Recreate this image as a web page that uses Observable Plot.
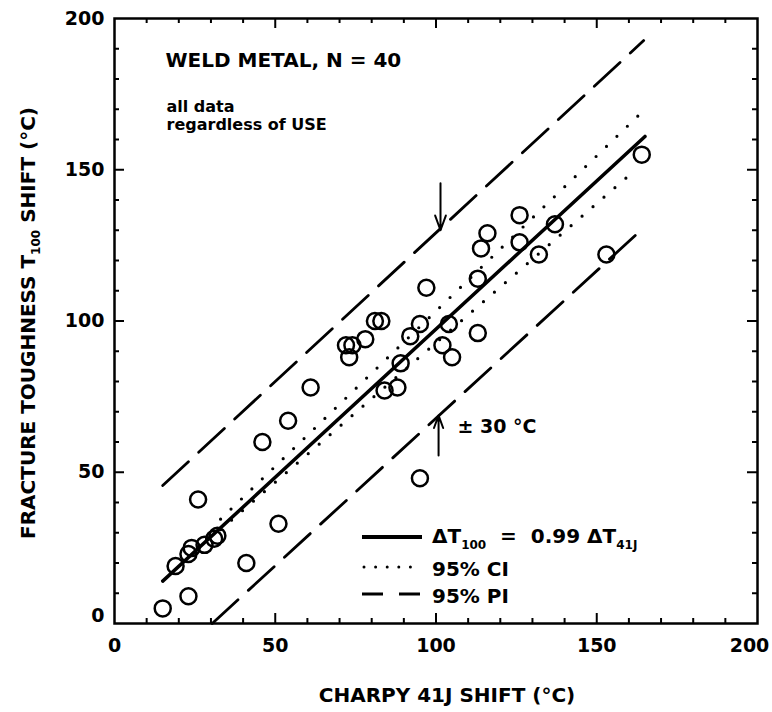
<!DOCTYPE html>
<html><head><meta charset="utf-8">
<script src="https://cdn.jsdelivr.net/npm/d3@7"></script>
<script src="https://cdn.jsdelivr.net/npm/@observablehq/plot@0.6"></script>
<style>
body{margin:0;background:#fff;}
#chart{width:772px;height:712px;}
svg text{font-family:"DejaVu Sans";}
</style></head><body><div id="chart"></div>
<script>
// Data
const charpyShift = [15,23,19,23,24,28,32,31,26,41,51,46,95,54,61,73,72,74,78,81,83,84,88,89,92,95,97,102,105,104,113,113,114,116,126,126,132,137,153,164];
const toughnessShift = [5,9,19,23,25,26,29,28,41,20,33,60,48,67,78,88,92,92,94,100,100,77,78,86,95,99,111,92,88,99,96,114,124,129,126,135,122,132,122,155];
const fitX = [15, 165];       const fitY = [14, 161];
const ciUpperX = [33, 165];   const ciUpperY = [34.5, 170];
const ciLowerX = [33, 161];   const ciLowerY = [31, 149];
const piUpperX = [15, 164.6]; const piUpperY = [45.6, 192.7];
const piLowerX = [30.4, 162]; const piLowerY = [0, 128.3];
const arrowX = [101.4, 100.8]; const arrowFrom = [145.5, 55.5]; const arrowTo = [130, 68.8];
const xTickLabels = [0, 50, 100, 150, 200];
const yTickLabels = [0, 50, 100, 150, 200];
const majorTicks = [50, 100, 150];
const minorTicks = [10,20,30,40,60,70,80,90,110,120,130,140,160,170,180,190];

const points = charpyShift.map((x, i) => ({x, y: toughnessShift[i]}));
const pairs = (X, Y) => X.map((x, i) => ({x, y: Y[i]}));
const arrows = arrowX.map((x, i) => ({x, y1: arrowFrom[i], y2: arrowTo[i]}));

const tickStyle = {stroke: "black", strokeWidth: 2};
const plot = Plot.plot({
  width: 772, height: 712,
  marginLeft: 114, marginRight: 15, marginTop: 18, marginBottom: 89,
  style: {fontFamily: "DejaVu Sans", fontSize: "19px", fontWeight: "bold", background: "white", overflow: "visible"},
  x: {domain: [0, 200], ticks: xTickLabels, tickSize: 0, tickPadding: 15, label: null},
  y: {domain: [0, 200], ticks: yTickLabels, tickSize: 0, tickPadding: 10, label: null},
  marks: [
    // inward ticks on all four sides
    Plot.ruleX(minorTicks, {x: d => d, y1: 0, y2: 0, insetTop: -5, ...tickStyle}),
    Plot.ruleX(majorTicks, {x: d => d, y1: 0, y2: 0, insetTop: -10, ...tickStyle}),
    Plot.ruleX(minorTicks, {x: d => d, y1: 200, y2: 200, insetBottom: -5, ...tickStyle}),
    Plot.ruleX(majorTicks, {x: d => d, y1: 200, y2: 200, insetBottom: -10, ...tickStyle}),
    Plot.ruleY(minorTicks, {y: d => d, x1: 0, x2: 0, insetRight: -5, ...tickStyle}),
    Plot.ruleY(majorTicks, {y: d => d, x1: 0, x2: 0, insetRight: -10, ...tickStyle}),
    Plot.ruleY(minorTicks, {y: d => d, x1: 200, x2: 200, insetLeft: -5, ...tickStyle}),
    Plot.ruleY(majorTicks, {y: d => d, x1: 200, x2: 200, insetLeft: -10, ...tickStyle}),
    Plot.frame({stroke: "black", strokeWidth: 2.5}),
    // prediction interval
    Plot.line(pairs(piUpperX, piUpperY), {x: "x", y: "y", stroke: "black", strokeWidth: 2.8, strokeDasharray: "35,14"}),
    Plot.line(pairs(piLowerX, piLowerY), {x: "x", y: "y", stroke: "black", strokeWidth: 2.8, strokeDasharray: "35,14"}),
    // confidence interval
    Plot.line(pairs(ciUpperX, ciUpperY), {x: "x", y: "y", stroke: "black", strokeWidth: 3.2, strokeDasharray: "0,14.5", strokeLinecap: "round"}),
    Plot.line(pairs(ciLowerX, ciLowerY), {x: "x", y: "y", stroke: "black", strokeWidth: 3.2, strokeDasharray: "0,14.5", strokeLinecap: "round"}),
    // fit
    Plot.line(pairs(fitX, fitY), {x: "x", y: "y", stroke: "black", strokeWidth: 3.5}),
    Plot.dot(points, {x: "x", y: "y", r: 8, stroke: "black", strokeWidth: 2.5, fill: "none"}),
    Plot.arrow(arrows, {x1: "x", x2: "x", y1: "y1", y2: "y2", stroke: "black", strokeWidth: 2, headLength: 13, headAngle: 40}),
    Plot.text(["WELD METAL, N = 40"], {frameAnchor: "top-left", dx: 51, dy: 42, textAnchor: "start", lineAnchor: "middle", fontSize: 20, fontWeight: "bold", letterSpacing: 2.2}),
    Plot.text(["all data", "regardless of USE"], {frameAnchor: "top-left", dx: 52, dy: (d, i) => 0, textAnchor: "start", lineAnchor: "middle", fontSize: 16, fontWeight: "bold", letterSpacing: 1.5, filter: (d, i) => i === 0}),
    Plot.text(["all data"], {frameAnchor: "top-left", dx: 52, dy: 88, textAnchor: "start", lineAnchor: "middle", fontSize: 16, fontWeight: "bold", letterSpacing: 1.5}),
    Plot.text(["regardless of USE"], {frameAnchor: "top-left", dx: 52, dy: 106, textAnchor: "start", lineAnchor: "middle", fontSize: 16, fontWeight: "bold", letterSpacing: 1.5}),
    Plot.text(["± 30 °C"], {frameAnchor: "bottom-left", dx: 343, dy: -197, textAnchor: "start", lineAnchor: "middle", fontSize: 19, fontWeight: "bold"})
  ].filter((m, i) => i !== 17)
});
document.getElementById("chart").appendChild(plot);

const svg = d3.select(plot);
// lift the y-axis "0" label off the corner; pull the x-axis "200" inside the page
svg.selectAll('g[aria-label^="y-axis"] text').each(function() {
  if (this.textContent.trim() === "0") {
    const t = this.getAttribute("transform") || "";
    this.setAttribute("transform", t + " translate(0,-8)");
  }
});
svg.selectAll('g[aria-label^="x-axis"] text').each(function() {
  if (this.textContent.trim() === "200") {
    const t = this.getAttribute("transform") || "";
    this.setAttribute("transform", t + " translate(-8,0)");
  }
});

// axis titles with subscripts
const yl = svg.append("text").attr("transform", "translate(35,323) rotate(-90)")
  .attr("text-anchor", "middle").attr("font-size", 20).attr("font-weight", "bold").attr("fill", "black");
yl.append("tspan").text("FRACTURE TOUGHNESS T");
yl.append("tspan").attr("font-size", 12).attr("dy", 5).text("100");
yl.append("tspan").attr("dy", -5).text(" SHIFT (°C)");

svg.append("text").attr("x", 447).attr("y", 702).attr("text-anchor", "middle")
  .attr("font-size", 20).attr("font-weight", "bold").attr("fill", "black").text("CHARPY 41J SHIFT (°C)");

// legend
const lg = svg.append("g").attr("text-anchor", "start");
lg.append("line").attr("x1", 362).attr("x2", 422).attr("y1", 537).attr("y2", 537).attr("stroke", "black").attr("stroke-width", 4);
lg.append("line").attr("x1", 364).attr("x2", 422).attr("y1", 567).attr("y2", 567).attr("stroke", "black").attr("stroke-width", 3).attr("stroke-dasharray", "0,11.6").attr("stroke-linecap", "round");
lg.append("line").attr("x1", 362).attr("x2", 420).attr("y1", 594).attr("y2", 594).attr("stroke", "black").attr("stroke-width", 2.8).attr("stroke-dasharray", "21,16");
const t1 = lg.append("text").attr("x", 432).attr("y", 543).attr("text-anchor", "start").attr("font-size", 20).attr("font-weight", "bold");
t1.append("tspan").text("ΔT");
t1.append("tspan").attr("font-size", 12).attr("dy", 6).text("100");
t1.append("tspan").attr("dy", -6).text("  =  0.99 ΔT");
t1.append("tspan").attr("font-size", 12).attr("dy", 6).text("41J");
lg.append("text").attr("x", 432).attr("y", 576).attr("text-anchor", "start").attr("font-size", 20).attr("font-weight", "bold").text("95% CI");
lg.append("text").attr("x", 432).attr("y", 603).attr("text-anchor", "start").attr("font-size", 20).attr("font-weight", "bold").text("95% PI");
</script></body></html>
